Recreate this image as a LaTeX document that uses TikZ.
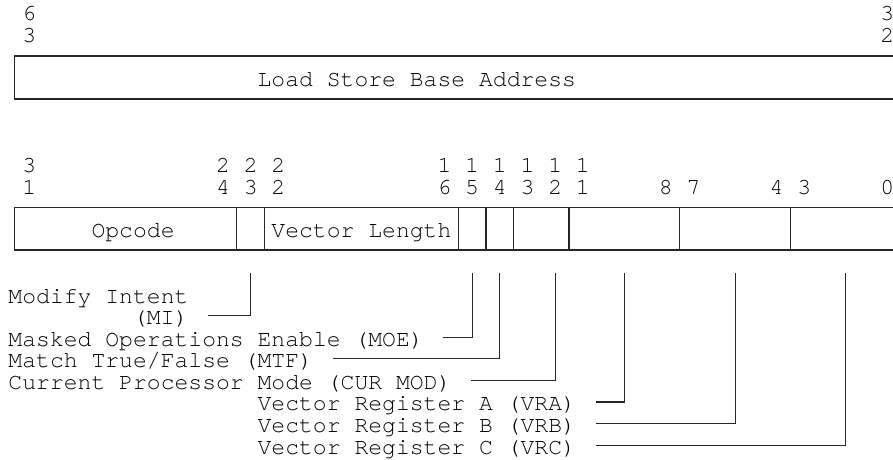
\documentclass[tikz,border=0pt]{standalone}
\usepackage{fontspec}
\newfontfamily\cour{TeX Gyre Cursor}
\begin{document}
\frenchspacing
\begin{tikzpicture}[x=1pt,y=-1pt,
  lbl/.style={font=\cour\fontsize{23.07}{23}\selectfont, inner sep=0pt, outer sep=0pt, anchor=base west, text=black},
  ln/.style={line width=1.1pt, draw=black!85}]
\useasboundingbox (0,0) rectangle (893,459);
\clip (0,0) rectangle (893,459);
% ---------- upper register ----------
\node[lbl] (u63a) at (8.5+13.84*1, 20.6) {6};
\node[lbl] (u63b) at (8.5+13.84*1, 42.4) {3};
\node[lbl] (u32a) at (8.5+13.84*63, 20.6) {3};
\node[lbl] (u32b) at (8.5+13.84*63, 42.4) {2};
\draw[ln] (900,56) -- (14.7,56) -- (14.7,99) -- (900,99);
\node[lbl] (lsba) at (8.5+13.84*18, 86.8) {Load Store Base Address};
% ---------- lower register ----------
\foreach \c/\t in {1/3,15/2,17/2,19/2,31/1,33/1,35/1,37/1,39/1,41/1}
  \node[lbl] (ha\c) at (8.5+13.84*\c, 172.6) {\t};
\foreach \c/\t in {1/1,15/4,17/3,19/2,31/6,33/5,35/4,37/3,39/2,41/1,47/8,49/7,55/4,57/3,63/0}
  \node[lbl] (hb\c) at (8.5+13.84*\c, 194.3) {\t};
\draw[ln] (900,207.7) -- (14.7,207.7) -- (14.7,250) -- (900,250);
\foreach \c in {16,18,32,34,36,40,48,56}
  \draw[ln] (15.42+13.84*\c,207.7) -- (15.42+13.84*\c,250);
\node[lbl] (opc) at (8.5+13.84*6, 237) {Opcode};
\node[lbl] (vl) at (8.5+13.84*19, 237) {Vector Length};
% ---------- labels ----------
\node[lbl] (mi1) at (8.5, 303.2) {Modify Intent};
\node[lbl] (mi2) at (8.5+13.84*9, 324.75) {(MI)};
\node[lbl] (moe) at (8.5, 346.3) {Masked Operations Enable (MOE)};
\node[lbl] (mtf) at (8.5, 367.85) {Match True/False (MTF)};
\node[lbl] (cur) at (8.5, 389.4) {Current Processor Mode (CUR MOD)};
\node[lbl] (vra) at (8.5+13.84*18, 410.95) {Vector Register A (VRA)};
\node[lbl] (vrb) at (8.5+13.84*18, 432.5) {Vector Register B (VRB)};
\node[lbl] (vrc) at (8.5+13.84*18, 454.05) {Vector Register C (VRC)};
% ---------- connector ends ----------
\coordinate (tMI)  at (15.42+13.84*17, 273);
\coordinate (tMOE) at (15.42+13.84*33, 273);
\coordinate (tMTF) at (15.42+13.84*35, 273);
\coordinate (tCUR) at (15.42+13.84*39, 273);
\coordinate (tVRA) at (15.42+13.84*44, 273);
\coordinate (tVRB) at (15.42+13.84*52, 273);
\coordinate (tVRC) at (15.42+13.84*60, 273);
\coordinate (eMI)  at (15.42+13.84*14-1, 315.75);
\coordinate (eMOE) at (15.42+13.84*31-1, 337.3);
\coordinate (eMTF) at (15.42+13.84*23-1, 358.85);
\coordinate (eCUR) at (15.42+13.84*33-1, 380.4);
\coordinate (eVRA) at (15.42+13.84*42-1, 401.95);
\coordinate (eVRB) at (15.42+13.84*42-1, 423.5);
\coordinate (eVRC) at (15.42+13.84*42-1, 445.05);
\foreach \n in {MI,MOE,MTF,CUR,VRA,VRB,VRC}
  \draw[ln] (t\n) |- (e\n);
\end{tikzpicture}
\end{document}
